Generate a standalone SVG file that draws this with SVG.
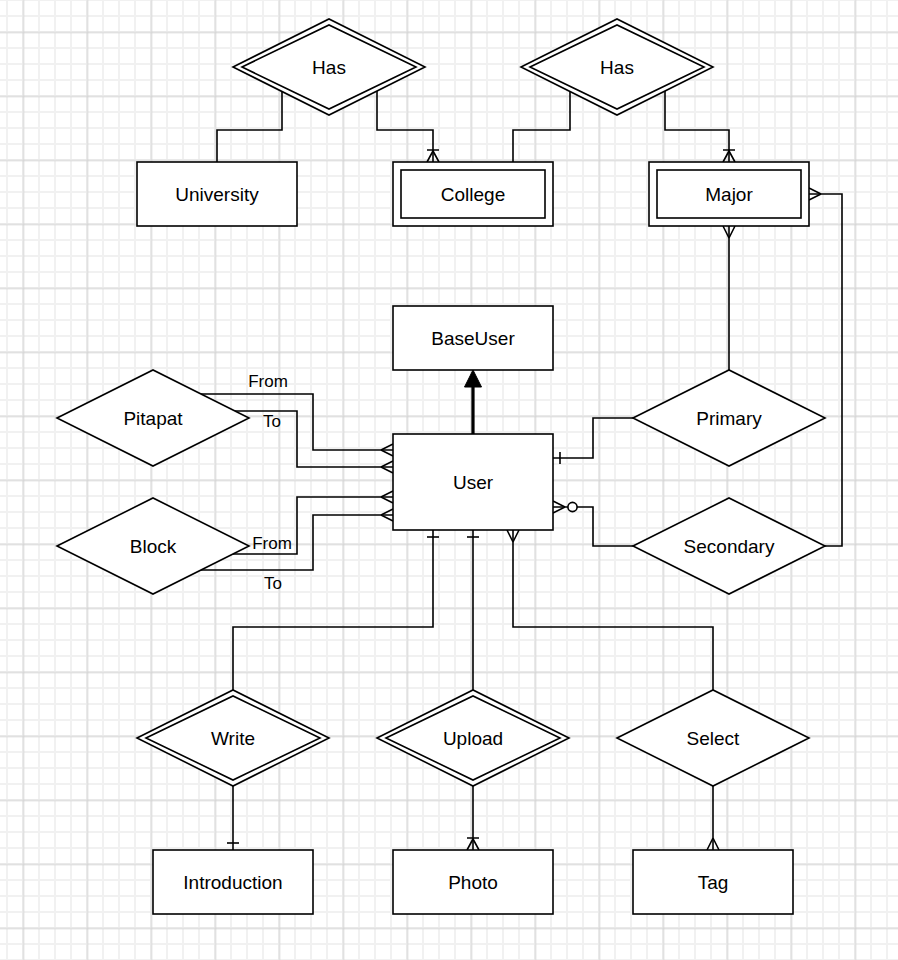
<svg xmlns="http://www.w3.org/2000/svg" width="898" height="960" viewBox="0 0 898 960">
<style>
.shape{fill:#fff;stroke:#000;stroke-width:1.6}
.inner{fill:none;stroke:#000;stroke-width:1.6}
.lbl{font-family:"Liberation Sans",Arial,Helvetica,sans-serif;font-size:19px;text-anchor:middle;fill:#000}
.elbl{font-family:"Liberation Sans",Arial,Helvetica,sans-serif;font-size:17px;text-anchor:middle;fill:#000}
.conn path{fill:none;stroke:#000;stroke-width:1.6}
.mk{fill:none;stroke:#000;stroke-width:1.6}
</style>
<defs>
<pattern id="minor" patternUnits="userSpaceOnUse" x="-1" y="-8" width="16" height="16">
<path d="M8 0V16M0 8H16" stroke="#f1f1f1" stroke-width="2" fill="none"/>
</pattern>
<pattern id="major" patternUnits="userSpaceOnUse" x="-8.5" y="0.5" width="64" height="64">
<path d="M32 0V64M0 32H64" stroke="#d0d0d0" stroke-width="1" fill="none"/>
</pattern>
<marker id="many" markerUnits="userSpaceOnUse" orient="auto" refX="0" refY="0" markerWidth="30" markerHeight="30" overflow="visible">
<path class="mk" d="M-12,0L0,-6M-12,0L0,6"/>
</marker>
<marker id="one" markerUnits="userSpaceOnUse" orient="auto" refX="0" refY="0" markerWidth="30" markerHeight="30" overflow="visible">
<path class="mk" d="M-7,-6L-7,6"/>
</marker>
<marker id="oneMany" markerUnits="userSpaceOnUse" orient="auto" refX="0" refY="0" markerWidth="30" markerHeight="30" overflow="visible">
<path class="mk" d="M-12,-6L-12,6M-11,0L0,-6M-11,0L0,6"/>
</marker>
<marker id="zeroMany" markerUnits="userSpaceOnUse" orient="auto" refX="0" refY="0" markerWidth="30" markerHeight="30" overflow="visible">
<path class="mk" d="M-12,0L0,-6M-12,0L0,6"/>
<circle cx="-19.5" cy="0" r="4.6" fill="#fff" stroke="#000" stroke-width="1.6"/>
</marker>
<marker id="block" markerUnits="userSpaceOnUse" orient="auto" refX="0" refY="0" markerWidth="30" markerHeight="30" overflow="visible">
<path d="M0,-8.5L17,0L0,8.5Z" fill="#000" stroke="#000" stroke-width="1"/>
</marker>
</defs>
<rect width="898" height="960" fill="#fff"/>
<rect width="898" height="960" fill="url(#minor)"/>
<rect width="898" height="960" fill="url(#major)"/>

<g id="connectors" class="conn">
<path d="M282,91.5V130H217V162"/>
<path d="M377,91V130H433V162" marker-end="url(#oneMany)"/>
<path d="M570,91.5V130H513V162"/>
<path d="M665,91V130H729V162" marker-end="url(#oneMany)"/>
<path d="M729,370V226" marker-end="url(#many)"/>
<path d="M825,546H842V194H809" marker-end="url(#many)"/>
<path d="M473,434V387" style="stroke-width:3.2" marker-end="url(#block)"/>
<path d="M201,394H313V450H393" marker-end="url(#many)"/>
<path d="M234,411H297V467H393" marker-end="url(#many)"/>
<path d="M233,554H297V497H393" marker-end="url(#many)"/>
<path d="M201,570H313V515H393" marker-end="url(#many)"/>
<path d="M633,418H593V458H553" marker-end="url(#one)"/>
<path d="M633,546H593V507H553" marker-end="url(#zeroMany)"/>
<path d="M233,690V627H433V530" marker-end="url(#one)"/>
<path d="M473,690V530" marker-end="url(#one)"/>
<path d="M713,690V627H513V530" marker-end="url(#many)"/>
<path d="M233,786V850" marker-end="url(#one)"/>
<path d="M473,786V850" marker-end="url(#oneMany)"/>
<path d="M713,786V850" marker-end="url(#many)"/>
<text class="elbl" x="268" y="387">From</text>
<text class="elbl" x="272" y="427">To</text>
<text class="elbl" x="272" y="549">From</text>
<text class="elbl" x="273" y="589">To</text>
</g>

<g id="has1">
<polygon class="shape" points="233,67 329,19 425,67 329,115"/>
<polygon class="inner" points="242,67 329,25 416,67 329,109"/>
<text class="lbl" x="329" y="74">Has</text>
</g>
<g id="has2">
<polygon class="shape" points="521,67 617,19 713,67 617,115"/>
<polygon class="inner" points="530,67 617,25 704,67 617,109"/>
<text class="lbl" x="617" y="74">Has</text>
</g>
<g id="university">
<rect class="shape" x="137" y="162" width="160" height="64"/>
<text class="lbl" x="217" y="201">University</text>
</g>
<g id="college">
<rect class="shape" x="393" y="162" width="160" height="64"/>
<rect class="inner" x="401" y="170" width="144" height="48"/>
<text class="lbl" x="473" y="201">College</text>
</g>
<g id="major">
<rect class="shape" x="649" y="162" width="160" height="64"/>
<rect class="inner" x="657" y="170" width="144" height="48"/>
<text class="lbl" x="729" y="201">Major</text>
</g>
<g id="baseuser">
<rect class="shape" x="393" y="306" width="160" height="64"/>
<text class="lbl" x="473" y="345">BaseUser</text>
</g>
<g id="user">
<rect class="shape" x="393" y="434" width="160" height="96"/>
<text class="lbl" x="473" y="489">User</text>
</g>
<g id="pitapat">
<polygon class="shape" points="57,418 153,370 249,418 153,466"/>
<text class="lbl" x="153" y="425">Pitapat</text>
</g>
<g id="block">
<polygon class="shape" points="57,546 153,498 249,546 153,594"/>
<text class="lbl" x="153" y="553">Block</text>
</g>
<g id="primary">
<polygon class="shape" points="633,418 729,370 825,418 729,466"/>
<text class="lbl" x="729" y="425">Primary</text>
</g>
<g id="secondary">
<polygon class="shape" points="633,546 729,498 825,546 729,594"/>
<text class="lbl" x="729" y="553">Secondary</text>
</g>
<g id="write">
<polygon class="shape" points="137,738 233,690 329,738 233,786"/>
<polygon class="inner" points="146,738 233,696 320,738 233,780"/>
<text class="lbl" x="233" y="745">Write</text>
</g>
<g id="upload">
<polygon class="shape" points="377,738 473,690 569,738 473,786"/>
<polygon class="inner" points="386,738 473,696 560,738 473,780"/>
<text class="lbl" x="473" y="745">Upload</text>
</g>
<g id="select">
<polygon class="shape" points="617,738 713,690 809,738 713,786"/>
<text class="lbl" x="713" y="745">Select</text>
</g>
<g id="introduction">
<rect class="shape" x="153" y="850" width="160" height="64"/>
<text class="lbl" x="233" y="889">Introduction</text>
</g>
<g id="photo">
<rect class="shape" x="393" y="850" width="160" height="64"/>
<text class="lbl" x="473" y="889">Photo</text>
</g>
<g id="tag">
<rect class="shape" x="633" y="850" width="160" height="64"/>
<text class="lbl" x="713" y="889">Tag</text>
</g>
</svg>
